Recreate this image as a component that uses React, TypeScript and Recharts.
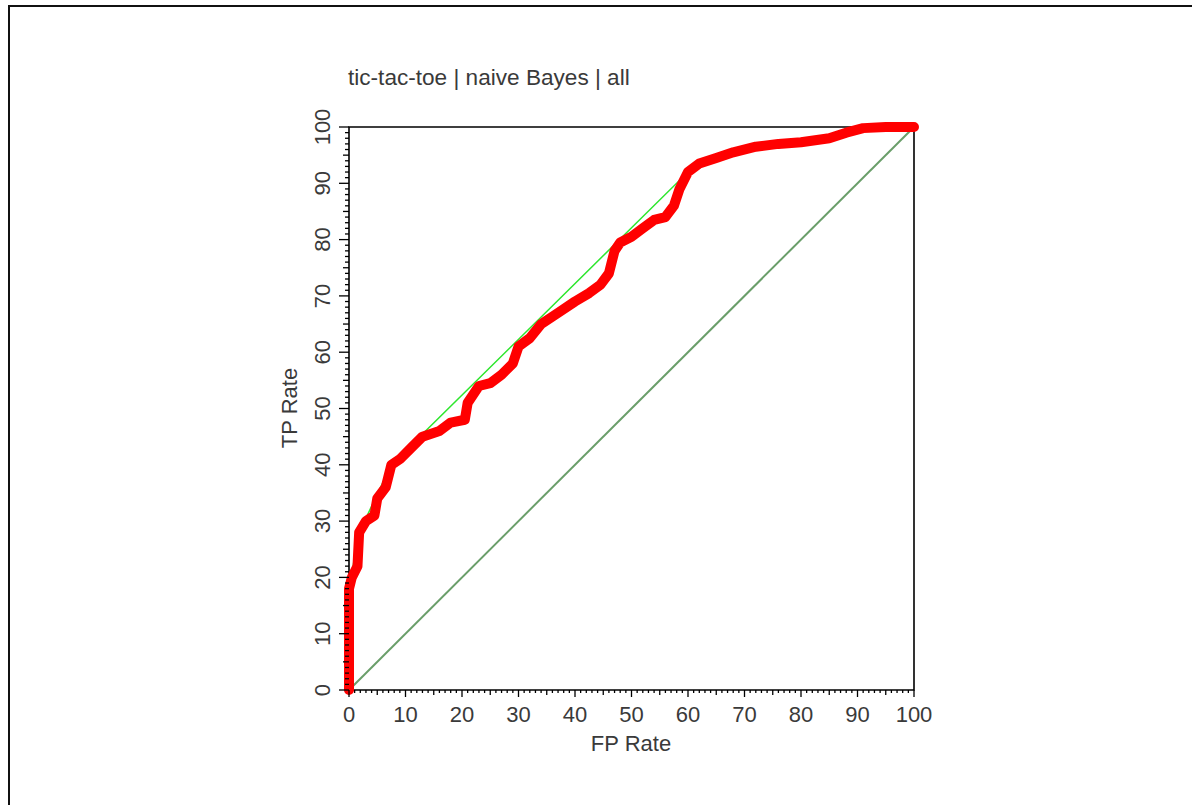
import { LineChart, Line, XAxis, YAxis, ReferenceArea } from "recharts";

// ROC curve (FP rate %, TP rate %)
const rocFp = [0, 0, 0.5, 1.5, 1.8, 3, 4.5, 5, 6.5, 7.5, 9, 11, 13, 16, 18, 20.5, 21, 23, 25, 27, 29, 30, 32, 34, 37, 40, 42.5, 44.5, 46, 47, 48, 50, 52, 54, 56, 57.5, 58.5, 60, 62, 65, 68, 72, 76, 80, 85, 88, 91, 95, 100];
const rocTp = [0, 18, 20, 22, 28, 30, 31, 34, 36, 40, 41, 43, 45, 46, 47.5, 48, 51, 54, 54.5, 56, 58, 61, 62.5, 65, 67, 69, 70.5, 72, 74, 78, 79.5, 80.5, 82, 83.5, 84, 86, 89, 92, 93.5, 94.5, 95.5, 96.5, 97, 97.3, 98, 99, 99.8, 100, 100];

// convex hull
const hullFp = [0, 0, 1.8, 7.5, 60, 65, 72, 88, 95, 100];
const hullTp = [0, 18, 28, 40, 92, 94.5, 96.5, 99, 100, 100];

// random classifier diagonal
const diagFp = [0, 100];
const diagTp = [0, 100];

const labelTicks = [0, 10, 20, 30, 40, 50, 60, 70, 80, 90, 100];
const allTicks = Array.from({ length: 101 }, (_, i) => i);

const title = "tic-tac-toe | naive Bayes | all";

const roc = rocFp.map((fp, i) => ({ fp, tp: rocTp[i] }));
const hull = hullFp.map((fp, i) => ({ fp, tp: hullTp[i] }));
const diag = diagFp.map((fp, i) => ({ fp, tp: diagTp[i] }));

const FONT = "'Liberation Sans', Arial, sans-serif";
const TEXT = "#3a3a3a";

function XTick(props: any) {
  const { x, y, payload } = props;
  const v = payload.value;
  const len = v % 10 === 0 ? 7 : v % 5 === 0 ? 5 : 3;
  return (
    <g>
      <line x1={x} x2={x} y1={y} y2={y + len} stroke="#000" strokeWidth={1.3} />
      {labelTicks.includes(v) && (
        <text x={x} y={y + 32} textAnchor="middle" fontSize={22} fontFamily={FONT} fill={TEXT}>
          {v}
        </text>
      )}
    </g>
  );
}

function YTick(props: any) {
  const { x, y, payload } = props;
  const v = payload.value;
  const len = v % 10 === 0 ? 10 : v % 5 === 0 ? 6 : 4;
  const tx = x - 19;
  return (
    <g>
      <line x1={x - len} x2={x} y1={y} y2={y} stroke="#000" strokeWidth={1.3} />
      {labelTicks.includes(v) && (
        <text x={tx} y={y} textAnchor="middle" transform={`rotate(-90, ${tx}, ${y})`} fontSize={22} fontFamily={FONT} fill={TEXT}>
          {v}
        </text>
      )}
    </g>
  );
}

export default function App() {
  return (
    <div style={{ position: "fixed", left: 0, top: 0, width: 1192, height: 805, background: "#fff" }}>
      <div
        style={{
          position: "absolute",
          left: 8,
          top: 5,
          width: 1300,
          height: 900,
          borderTop: "2px solid #111",
          borderLeft: "2px solid #111",
        }}
      />
      <div style={{ position: "absolute", left: 0, top: 0 }}>
        <LineChart width={1192} height={805} margin={{ top: 127, right: 278, bottom: 55, left: 289 }}>
          <XAxis
            type="number"
            dataKey="fp"
            domain={[0, 100]}
            ticks={allTicks}
            interval={0}
            tickSize={0}
            tickMargin={0}
            height={60}
            axisLine={false}
            tickLine={false}
            tick={XTick}
          />
          <YAxis
            type="number"
            dataKey="tp"
            domain={[0, 100]}
            ticks={allTicks}
            interval={0}
            tickSize={0}
            tickMargin={0}
            width={60}
            axisLine={false}
            tickLine={false}
            tick={YTick}
          />
          <ReferenceArea x1={0} x2={100} y1={0} y2={100} fill="none" stroke="#000" strokeWidth={1.6} fillOpacity={0} />
          <Line data={diag} dataKey="tp" type="linear" stroke="#6a9e6a" strokeWidth={2} dot={false} isAnimationActive={false} />
          <Line data={hull} dataKey="tp" type="linear" stroke="#2ee62e" strokeWidth={1.5} dot={false} isAnimationActive={false} />
          <Line
            data={roc}
            dataKey="tp"
            type="linear"
            stroke="#ff0000"
            strokeWidth={10}
            strokeLinejoin="round"
            strokeLinecap="round"
            dot={false}
            isAnimationActive={false}
          />
          <text x={348} y={85} fontSize={22.6} fontFamily={FONT} fill={TEXT}>
            {title}
          </text>
          <text x={631} y={751} textAnchor="middle" fontSize={22} fontFamily={FONT} fill={TEXT}>
            FP Rate
          </text>
          <text x={297} y={408} textAnchor="middle" transform="rotate(-90, 297, 408)" fontSize={22} fontFamily={FONT} fill={TEXT}>
            TP Rate
          </text>
        </LineChart>
      </div>
    </div>
  );
}
